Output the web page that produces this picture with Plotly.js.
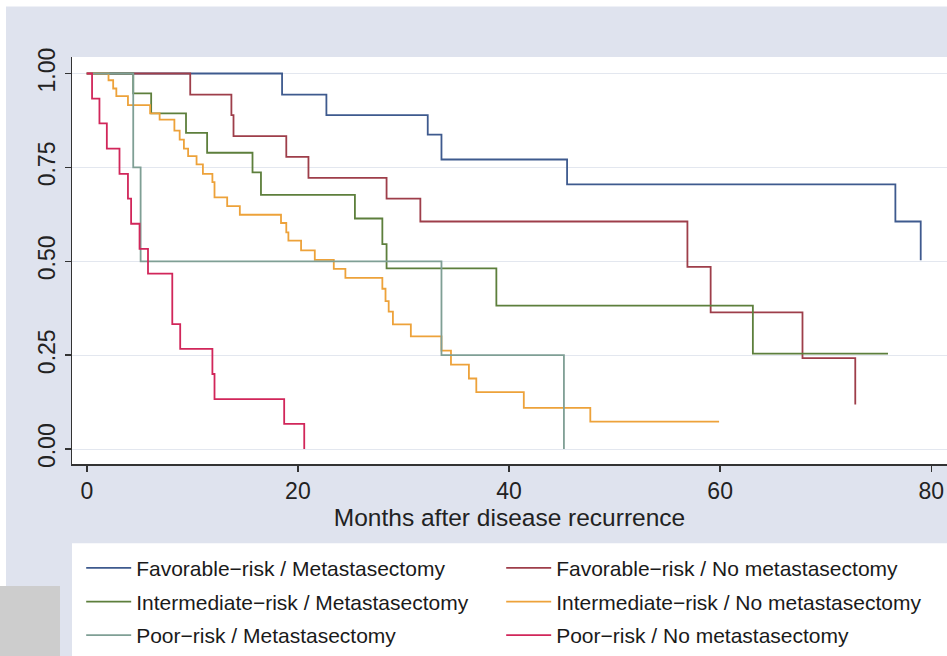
<!DOCTYPE html>
<html>
<head>
<meta charset="utf-8">
<script src="https://cdn.plot.ly/plotly-3.0.1.min.js"></script>
<style>
html,body{margin:0;padding:0;background:#dfe3ee;}
#chart{width:947px;height:656px;}
</style>
</head>
<body>
<div id="chart"></div>
<script>
// Series names (legend)
var seriesNames = [
  "Favorable\u2212risk / Metastasectomy",
  "Favorable\u2212risk / No metastasectomy",
  "Intermediate\u2212risk / Metastasectomy",
  "Intermediate\u2212risk / No metastasectomy",
  "Poor\u2212risk / Metastasectomy",
  "Poor\u2212risk / No metastasectomy"
];

// Kaplan-Meier step data (months, survival)
var favMetT   = [0, 18.5, 22.7, 32.3, 33.6, 45.5, 76.6, 79.0];
var favMetS   = [1, 0.944, 0.889, 0.837, 0.771, 0.705, 0.606, 0.503];

var favNoMetT = [0, 9.8, 13.7, 13.9, 18.9, 21.0, 28.4, 31.6, 56.9, 59.1, 67.8, 72.8];
var favNoMetS = [1, 0.944, 0.889, 0.833, 0.778, 0.722, 0.667, 0.606, 0.485, 0.364, 0.242, 0.119];

var intMetT   = [0, 4.4, 6.1, 9.4, 11.4, 15.7, 16.5, 25.4, 28.0, 28.4, 38.8, 63.1, 75.9];
var intMetS   = [1, 0.947, 0.894, 0.842, 0.789, 0.737, 0.677, 0.614, 0.546, 0.481, 0.382, 0.254, 0.254];

var intNoMetT = [0, 2.06, 2.5, 2.8, 3.9, 6.0, 6.9, 8.3, 8.8, 9.2, 9.6, 10.4, 11.0, 11.9, 12.1, 13.3, 14.5,
                 18.4, 18.9, 19.1, 20.3, 21.6, 23.4, 24.5, 28.0, 28.3, 28.6, 29.0, 30.7, 33.6, 34.5, 36.2,
                 36.9, 41.4, 47.7, 59.9];
var intNoMetS = [1, 0.982, 0.960, 0.940, 0.916, 0.894, 0.877, 0.848, 0.824, 0.800, 0.780, 0.758, 0.733, 0.711, 0.670, 0.647, 0.624,
                 0.602, 0.577, 0.555, 0.529, 0.504, 0.480, 0.456, 0.427, 0.394, 0.366, 0.332, 0.300, 0.262, 0.225, 0.188,
                 0.152, 0.110, 0.073, 0.073];

var poorMetT  = [0, 4.4, 5.1, 33.6, 45.2];
var poorMetS  = [1, 0.75, 0.5, 0.25, 0];

var poorNoMetT = [0, 0.5, 1.2, 1.9, 3.1, 3.9, 4.2, 5.0, 5.8, 8.1, 8.85, 11.9, 12.1, 18.7, 20.6];
var poorNoMetS = [1, 0.933, 0.867, 0.800, 0.733, 0.667, 0.600, 0.533, 0.467, 0.333, 0.267, 0.200, 0.133, 0.067, 0];

// Axis ticks
var xTicks = [0, 20, 40, 60, 80];
var yTicks = [0, 0.25, 0.5, 0.75, 1];

var colors = ["#3e5a8e", "#9e3e4a", "#5d7f3c", "#eda23a", "#7f9f95", "#d1265a"];
var xs = [favMetT, favNoMetT, intMetT, intNoMetT, poorMetT, poorNoMetT];
var ys = [favMetS, favNoMetS, intMetS, intNoMetS, poorMetS, poorNoMetS];
var legendIds = ["legend", "legend2", "legend3", "legend4", "legend5", "legend6"];

var traces = [];
for (var i = 0; i < xs.length; i++) {
  traces.push({
    x: xs[i], y: ys[i], type: "scatter", mode: "lines",
    name: seriesNames[i],
    legend: legendIds[i],
    line: {shape: "hv", color: colors[i], width: 1.8},
    hoverinfo: "skip"
  });
}

var sans = "'Liberation Sans', Arial, sans-serif";

function makeLegend(xPos, yPos) {
  return {
    orientation: "h",
    x: xPos, xanchor: "left",
    y: yPos, yanchor: "middle",
    bgcolor: "rgba(0,0,0,0)",
    font: {family: sans, size: 21, color: "#1a1a1a"},
    itemwidth: 45
  };
}

var colX = [0.0105, 0.4905];
var rowY = [-0.2561, -0.3390, -0.4220];

var layout = {
  width: 947, height: 656,
  paper_bgcolor: "#dfe3ee",
  plot_bgcolor: "#ffffff",
  margin: {l: 72, r: 0, t: 57, b: 189},
  showlegend: true,
  xaxis: {
    automargin: false,
    range: [-1.40, 81.49],
    tickvals: xTicks,
    ticks: "outside", ticklen: 6, tickwidth: 1.5, tickcolor: "#333",
    showline: true, linecolor: "#333", linewidth: 1.5,
    showgrid: false, zeroline: false,
    tickfont: {family: sans, size: 23, color: "#222"},
    title: {text: "Months after disease recurrence", font: {family: sans, size: 24.5, color: "#222"}, standoff: 0}
  },
  yaxis: {
    automargin: false,
    range: [-0.0396, 1.0439],
    tickvals: yTicks, tickformat: ".2f",
    tickangle: -90,
    ticks: "outside", ticklen: 6, tickwidth: 1.5, tickcolor: "#333",
    showline: true, linecolor: "#333", linewidth: 1.5,
    showgrid: true, gridcolor: "#e3e7ef", gridwidth: 1,
    zeroline: false,
    tickfont: {family: sans, size: 23, color: "#222"}
  },
  legend:  makeLegend(colX[0], rowY[0]),
  legend2: makeLegend(colX[1], rowY[0]),
  legend3: makeLegend(colX[0], rowY[1]),
  legend4: makeLegend(colX[1], rowY[1]),
  legend5: makeLegend(colX[0], rowY[2]),
  legend6: makeLegend(colX[1], rowY[2]),
  shapes: [
    {type: "rect", xref: "paper", yref: "paper", x0: 0, x1: 1.01, y0: -0.195, y1: -0.48,
     fillcolor: "#ffffff", line: {width: 0}, layer: "below"},
    {type: "rect", xref: "paper", yref: "paper", x0: -0.083, x1: 1.01, y0: 1.124, y1: 1.15,
     fillcolor: "#ffffff", line: {width: 0}, layer: "below"},
    {type: "rect", xref: "paper", yref: "paper", x0: -0.083, x1: -0.0754, y0: -0.3, y1: 1.15,
     fillcolor: "#ffffff", line: {width: 0}, layer: "below"},
    {type: "rect", xref: "paper", yref: "paper", x0: -0.083, x1: -0.0137, y0: -0.3, y1: -0.48,
     fillcolor: "#cdcdcd", line: {width: 0}, layer: "below"}
  ]
};

Plotly.newPlot("chart", traces, layout, {displayModeBar: false, staticPlot: true});
</script>
</body>
</html>
